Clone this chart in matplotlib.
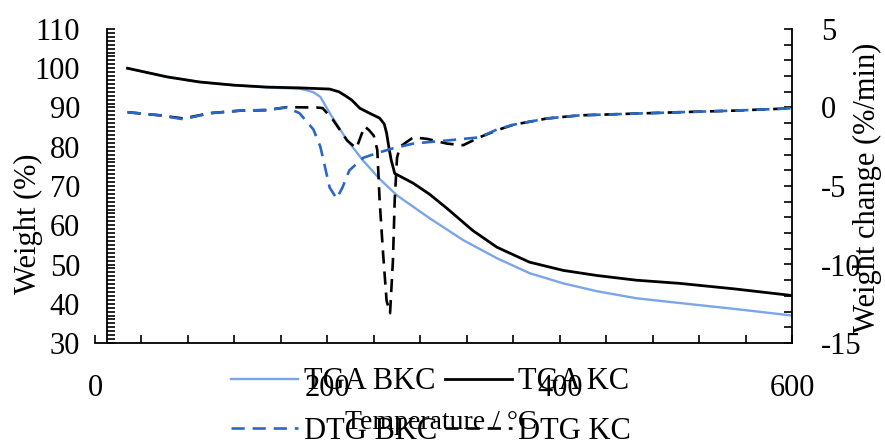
import matplotlib
matplotlib.use('Agg')
import matplotlib.pyplot as plt
from matplotlib.ticker import MultipleLocator, FixedLocator

plt.rcParams['font.family'] = ['Liberation Serif', 'DejaVu Serif']
plt.rcParams['axes.unicode_minus'] = False

# TGA curves (left axis, weight %)
tga_kc_t = [28, 62, 90, 119, 148, 176, 202, 210, 216, 221, 228, 238, 245, 249, 251, 253,
            255, 258, 274, 288, 303, 325, 346, 374, 403, 432, 466, 503, 550, 600]
tga_kc_w = [100, 97.8, 96.5, 95.7, 95.2, 95.0, 94.7, 94.0, 92.9, 91.9, 89.8, 88.3, 87.3,
            85.8, 83.5, 79.8, 76.6, 73.2, 70.7, 67.9, 64.3, 58.7, 54.4, 50.6, 48.5, 47.2,
            46.0, 45.2, 43.8, 42.1]

tga_bkc_t = [28, 62, 90, 119, 148, 176, 182, 188, 194, 202, 208, 217, 231, 245, 260,
             288, 317, 346, 374, 403, 432, 466, 503, 550, 600]
tga_bkc_w = [100, 97.8, 96.5, 95.7, 95.1, 94.8, 94.4, 93.9, 92.7, 88.6, 85.8, 81.7,
             76.4, 71.8, 67.6, 61.8, 56.2, 51.6, 47.8, 45.2, 43.2, 41.4, 40.2, 38.7, 37.0]

# DTG curves (right axis, %/min)
dtg_kc_t = [28, 56, 76, 99, 125, 148, 165, 191, 196, 205, 217, 225, 232, 236, 240, 243,
            245, 248, 251, 254, 256.5, 258, 260, 262.5, 274, 286, 303, 317, 331, 346,
            360, 389, 417, 460, 503, 550, 600]
dtg_kc_d = [-0.3, -0.5, -0.7, -0.36, -0.2, -0.17, 0.02, 0.0, -0.04, -0.8, -2.1, -2.6,
            -1.2, -1.45, -1.8, -2.7, -5.9, -9.3, -12.3, -13.1, -9.7, -5.9, -3.2, -2.5,
            -1.9, -2.0, -2.3, -2.4, -1.9, -1.45, -1.1, -0.7, -0.5, -0.4, -0.3, -0.2, -0.05]

dtg_bkc_t = [28, 56, 76, 99, 125, 148, 165, 176, 188, 194, 198, 202, 208, 213, 219,
             231, 243, 256.5, 274, 288, 303, 317, 331, 346, 360, 389, 417, 460, 503,
             550, 600]
dtg_bkc_d = [-0.3, -0.5, -0.75, -0.36, -0.2, -0.15, 0.0, -0.36, -1.4, -2.5, -3.8, -5.1,
             -5.8, -5.1, -4.0, -3.2, -2.9, -2.6, -2.3, -2.2, -2.1, -2.0, -1.9, -1.4,
             -1.1, -0.7, -0.5, -0.4, -0.3, -0.2, -0.05]

light_blue = '#7aa6e8'
dark_blue = '#2a67c6'
fs = 22

fig = plt.figure(figsize=(8.85, 4.48), dpi=100)
ax = fig.add_axes([95 / 885, 1 - 343 / 448, 697 / 885, 314 / 448])
ax2 = ax.twinx()

dash = (0, (5, 3))
l1, = ax.plot(tga_bkc_t, tga_bkc_w, color=light_blue, lw=1.7, label='TGA BKC')
l2, = ax.plot(tga_kc_t, tga_kc_w, color='black', lw=2.0, label='TGA KC')
l4, = ax2.plot(dtg_kc_t, dtg_kc_d, color='black', lw=1.9, ls=dash, label='DTG KC')
l3, = ax2.plot(dtg_bkc_t, dtg_bkc_d, color=dark_blue, lw=1.9, ls=dash, label='DTG BKC')

ax.set_xlim(0, 600)
ax.set_ylim(30, 110)
ax2.set_ylim(-15, 5)

ax.spines['top'].set_visible(False)
ax.spines['right'].set_visible(False)
ax2.spines['top'].set_visible(False)
ax2.spines['left'].set_visible(False)
ax2.spines['bottom'].set_visible(False)
ax.spines['left'].set_position(('data', 10))
for sp in ['left', 'bottom']:
    ax.spines[sp].set_linewidth(1.3)
ax2.spines['right'].set_linewidth(1.3)

ax.xaxis.set_major_locator(FixedLocator([0, 200, 400, 600]))
ax.xaxis.set_minor_locator(MultipleLocator(40))
ax.yaxis.set_major_locator(MultipleLocator(10))
ax.yaxis.set_minor_locator(MultipleLocator(1))
ax2.yaxis.set_major_locator(MultipleLocator(5))
ax2.yaxis.set_minor_locator(MultipleLocator(1))

ax.tick_params(axis='x', which='both', direction='in', length=6, width=1.2,
               labelsize=fs, pad=22)
ax.tick_params(axis='y', which='both', direction='in', length=6, width=1.2,
               labelsize=fs, pad=19)
ax2.tick_params(axis='y', which='both', direction='in', length=6, width=1.2,
                labelsize=fs, pad=21)

fig.text(0.032, 0.5, 'Weight (%)', rotation=90, ha='center', va='center', fontsize=fs)
fig.text(0.98, 0.58, 'Weight change (%/min)', rotation=90, ha='center', va='center',
         fontsize=fs)
fig.text(0.498, 0.056, 'Temperature / °C', ha='center', va='center', fontsize=20)

fig.legend(handles=[l1, l3, l2, l4], loc='center', bbox_to_anchor=(0.487, 0.092),
           ncol=2, frameon=False, fontsize=fs, handlelength=2.2, handletextpad=0.2,
           columnspacing=0.25, labelspacing=0.68, borderpad=0)

fig.savefig('out.png', dpi=100)
